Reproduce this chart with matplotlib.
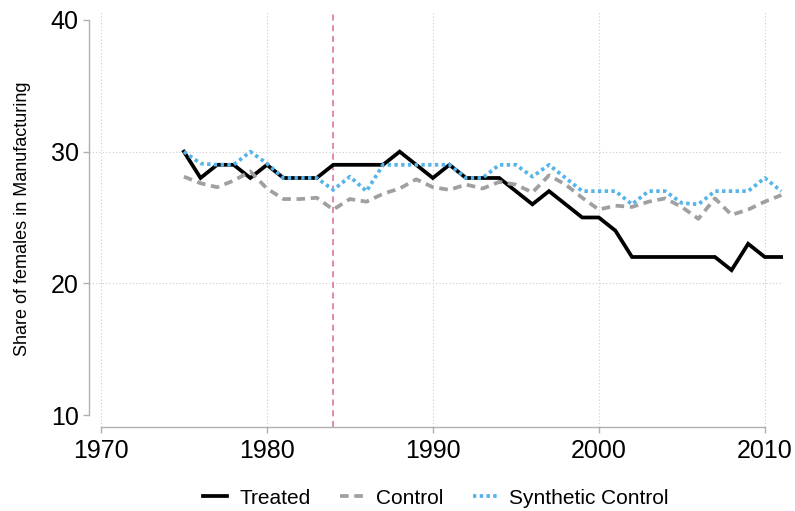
import matplotlib
matplotlib.use("Agg")
import matplotlib.pyplot as plt

years = list(range(1975, 2012))
treated = [30, 28, 29, 29, 28, 29, 28, 28, 28, 29, 29, 29, 29, 30, 29, 28, 29, 28, 28, 28,
           27, 26, 27, 26, 25, 25, 24, 22, 22, 22, 22, 22, 22, 21, 23, 22, 22]
control = [28.1, 27.6, 27.3, 27.8, 28.5, 27.2, 26.4, 26.4, 26.5, 25.6, 26.4, 26.2, 26.8, 27.2, 27.9, 27.3,
           27.1, 27.5, 27.2, 27.7, 27.5, 26.9, 28.2, 27.5, 26.5, 25.6, 25.9, 25.8, 26.2, 26.45, 25.8, 24.9,
           26.45, 25.2, 25.6, 26.2, 26.7]
synthetic = [30, 29.1, 29, 29, 30, 29.1, 28, 28, 28, 27.1, 28.1, 27, 29, 29, 29, 29, 29, 28, 28, 29,
             29, 28.1, 29, 28, 27, 27, 27, 26, 27, 27, 26.1, 26, 27, 27, 27, 28, 27]
treatment_year = 1984
xticks = [1970, 1980, 1990, 2000, 2010]
yticks = [10, 20, 30, 40]
ylabel = "Share of females in Manufacturing"
labels = ["Treated", "Control", "Synthetic Control"]

plt.rcParams['font.family'] = ['Liberation Sans', 'DejaVu Sans']

fig = plt.figure(figsize=(7.95, 5.11), dpi=100)
ax = fig.add_axes([89/795, (511-427)/511, (783-89)/795, (427-11)/511])

ax.axvline(treatment_year, color="#d86a9e", lw=1.1, linestyle=(0, (4, 3)), zorder=1)

ax.plot(years, treated, color="black", lw=2.7, label=labels[0], zorder=3, solid_joinstyle='miter')
ax.plot(years, control, color="#a0a0a0", lw=2.7, linestyle=(0, (2.3, 1.5)), label=labels[1], zorder=3)
ax.plot(years, synthetic, color="#55b4e9", lw=2.7, linestyle=(0, (0.9, 0.9)), label=labels[2], zorder=4)

ax.set_xlim(1969.28, 2011.1)
ax.set_ylim(9.09, 40.68)
ax.set_xticks(xticks)
ax.set_yticks(yticks)

for s in ["top", "right"]:
    ax.spines[s].set_visible(False)
for s in ["left", "bottom"]:
    ax.spines[s].set_color("#b0b0b0")
    ax.spines[s].set_linewidth(1.0)
ax.spines["left"].set_bounds(10, 40)
ax.spines["bottom"].set_bounds(1970, 2010)

ax.tick_params(axis="both", colors="#b0b0b0", length=4.5, width=1.0, labelcolor="black", labelsize=18)
ax.tick_params(axis="y", pad=3)
ax.tick_params(axis="x", pad=4)

ax.grid(True, color="#cccccc", lw=0.8, linestyle=(0, (1, 2)), zorder=0)
ax.set_axisbelow(True)
glines = ax.yaxis.get_gridlines()
glines[0].set_visible(False)
glines[-1].set_visible(False)

ax.set_ylabel(ylabel, fontsize=13, labelpad=14)

leg = ax.legend(loc="center", bbox_to_anchor=(0.5, -0.171), ncol=3, frameon=False, fontsize=15,
                handlelength=1.15, handletextpad=0.6, columnspacing=1.4)

fig.savefig("out.png", dpi=100)
